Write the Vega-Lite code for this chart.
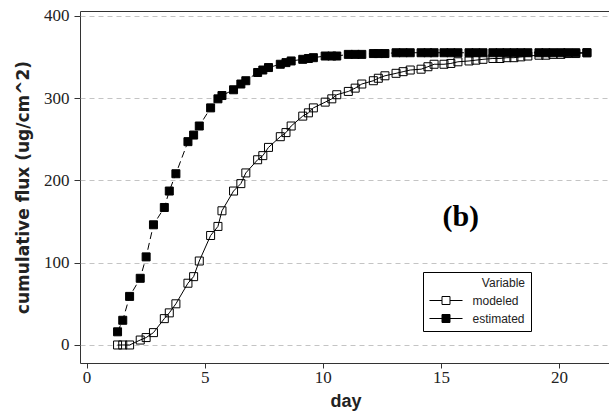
{
  "$schema": "https://vega.github.io/schema/vega-lite/v6.json",
  "width": 531,
  "height": 352,
  "autosize": {"type": "none"},
  "padding": {"left": 80, "top": 11, "right": 0, "bottom": 52},
  "background": "white",
  "config": {
    "view": {"stroke": "#333333", "strokeWidth": 1},
    "axis": {"domain": false, "labelColor": "#222222", "titleColor": "#222222", "tickColor": "#333333", "labelFlush": false}
  },
  "datasets": {
    "flux": [
      {"day": 1.31, "flux": 16, "series": "estimated"},
      {"day": 1.53, "flux": 30, "series": "estimated"},
      {"day": 1.82, "flux": 59, "series": "estimated"},
      {"day": 2.27, "flux": 81, "series": "estimated"},
      {"day": 2.52, "flux": 107, "series": "estimated"},
      {"day": 2.83, "flux": 146, "series": "estimated"},
      {"day": 3.29, "flux": 167, "series": "estimated"},
      {"day": 3.50, "flux": 187, "series": "estimated"},
      {"day": 3.78, "flux": 208, "series": "estimated"},
      {"day": 4.29, "flux": 247, "series": "estimated"},
      {"day": 4.53, "flux": 255, "series": "estimated"},
      {"day": 4.77, "flux": 266, "series": "estimated"},
      {"day": 5.25, "flux": 288, "series": "estimated"},
      {"day": 5.56, "flux": 299, "series": "estimated"},
      {"day": 5.73, "flux": 303, "series": "estimated"},
      {"day": 6.22, "flux": 310, "series": "estimated"},
      {"day": 6.53, "flux": 317, "series": "estimated"},
      {"day": 6.74, "flux": 321, "series": "estimated"},
      {"day": 7.24, "flux": 331, "series": "estimated"},
      {"day": 7.46, "flux": 334, "series": "estimated"},
      {"day": 7.70, "flux": 337, "series": "estimated"},
      {"day": 8.20, "flux": 341, "series": "estimated"},
      {"day": 8.44, "flux": 343, "series": "estimated"},
      {"day": 8.66, "flux": 345, "series": "estimated"},
      {"day": 9.15, "flux": 347, "series": "estimated"},
      {"day": 9.39, "flux": 348, "series": "estimated"},
      {"day": 9.60, "flux": 349, "series": "estimated"},
      {"day": 10.10, "flux": 351, "series": "estimated"},
      {"day": 10.38, "flux": 351, "series": "estimated"},
      {"day": 10.59, "flux": 351, "series": "estimated"},
      {"day": 11.08, "flux": 353, "series": "estimated"},
      {"day": 11.37, "flux": 353, "series": "estimated"},
      {"day": 11.65, "flux": 353, "series": "estimated"},
      {"day": 12.14, "flux": 354, "series": "estimated"},
      {"day": 12.35, "flux": 354, "series": "estimated"},
      {"day": 12.63, "flux": 354, "series": "estimated"},
      {"day": 13.10, "flux": 355, "series": "estimated"},
      {"day": 13.40, "flux": 355, "series": "estimated"},
      {"day": 13.70, "flux": 355, "series": "estimated"},
      {"day": 14.16, "flux": 355, "series": "estimated"},
      {"day": 14.45, "flux": 355, "series": "estimated"},
      {"day": 14.71, "flux": 355, "series": "estimated"},
      {"day": 15.13, "flux": 355, "series": "estimated"},
      {"day": 15.42, "flux": 355, "series": "estimated"},
      {"day": 15.72, "flux": 355, "series": "estimated"},
      {"day": 16.19, "flux": 355, "series": "estimated"},
      {"day": 16.48, "flux": 355, "series": "estimated"},
      {"day": 16.78, "flux": 355, "series": "estimated"},
      {"day": 17.20, "flux": 355, "series": "estimated"},
      {"day": 17.50, "flux": 355, "series": "estimated"},
      {"day": 17.79, "flux": 355, "series": "estimated"},
      {"day": 18.09, "flux": 355, "series": "estimated"},
      {"day": 18.38, "flux": 355, "series": "estimated"},
      {"day": 18.68, "flux": 355, "series": "estimated"},
      {"day": 19.15, "flux": 355, "series": "estimated"},
      {"day": 19.44, "flux": 355, "series": "estimated"},
      {"day": 19.74, "flux": 355, "series": "estimated"},
      {"day": 20.08, "flux": 355, "series": "estimated"},
      {"day": 20.37, "flux": 355, "series": "estimated"},
      {"day": 20.71, "flux": 355, "series": "estimated"},
      {"day": 21.18, "flux": 355, "series": "estimated"},
      {"day": 1.31, "flux": 0, "series": "modeled"},
      {"day": 1.53, "flux": 0, "series": "modeled"},
      {"day": 1.82, "flux": 0, "series": "modeled"},
      {"day": 2.27, "flux": 6, "series": "modeled"},
      {"day": 2.52, "flux": 9, "series": "modeled"},
      {"day": 2.83, "flux": 15, "series": "modeled"},
      {"day": 3.29, "flux": 32, "series": "modeled"},
      {"day": 3.50, "flux": 39, "series": "modeled"},
      {"day": 3.78, "flux": 50, "series": "modeled"},
      {"day": 4.29, "flux": 75, "series": "modeled"},
      {"day": 4.53, "flux": 83, "series": "modeled"},
      {"day": 4.77, "flux": 102, "series": "modeled"},
      {"day": 5.25, "flux": 133, "series": "modeled"},
      {"day": 5.56, "flux": 144, "series": "modeled"},
      {"day": 5.73, "flux": 163, "series": "modeled"},
      {"day": 6.22, "flux": 187, "series": "modeled"},
      {"day": 6.53, "flux": 196, "series": "modeled"},
      {"day": 6.74, "flux": 209, "series": "modeled"},
      {"day": 7.24, "flux": 225, "series": "modeled"},
      {"day": 7.46, "flux": 230, "series": "modeled"},
      {"day": 7.70, "flux": 240, "series": "modeled"},
      {"day": 8.20, "flux": 253, "series": "modeled"},
      {"day": 8.44, "flux": 258, "series": "modeled"},
      {"day": 8.66, "flux": 266, "series": "modeled"},
      {"day": 9.15, "flux": 278, "series": "modeled"},
      {"day": 9.39, "flux": 282, "series": "modeled"},
      {"day": 9.60, "flux": 288, "series": "modeled"},
      {"day": 10.10, "flux": 295, "series": "modeled"},
      {"day": 10.38, "flux": 299, "series": "modeled"},
      {"day": 10.59, "flux": 304, "series": "modeled"},
      {"day": 11.08, "flux": 308, "series": "modeled"},
      {"day": 11.37, "flux": 312, "series": "modeled"},
      {"day": 11.65, "flux": 317, "series": "modeled"},
      {"day": 12.14, "flux": 321, "series": "modeled"},
      {"day": 12.35, "flux": 324, "series": "modeled"},
      {"day": 12.63, "flux": 327, "series": "modeled"},
      {"day": 13.10, "flux": 330, "series": "modeled"},
      {"day": 13.40, "flux": 332, "series": "modeled"},
      {"day": 13.70, "flux": 334, "series": "modeled"},
      {"day": 14.16, "flux": 335, "series": "modeled"},
      {"day": 14.45, "flux": 338, "series": "modeled"},
      {"day": 14.71, "flux": 341, "series": "modeled"},
      {"day": 15.13, "flux": 341, "series": "modeled"},
      {"day": 15.42, "flux": 342, "series": "modeled"},
      {"day": 15.72, "flux": 344, "series": "modeled"},
      {"day": 16.19, "flux": 345, "series": "modeled"},
      {"day": 16.48, "flux": 346, "series": "modeled"},
      {"day": 16.78, "flux": 347, "series": "modeled"},
      {"day": 17.20, "flux": 348, "series": "modeled"},
      {"day": 17.50, "flux": 348, "series": "modeled"},
      {"day": 17.79, "flux": 349, "series": "modeled"},
      {"day": 18.09, "flux": 349, "series": "modeled"},
      {"day": 18.38, "flux": 350, "series": "modeled"},
      {"day": 18.68, "flux": 351, "series": "modeled"},
      {"day": 19.15, "flux": 352, "series": "modeled"},
      {"day": 19.44, "flux": 352, "series": "modeled"},
      {"day": 19.74, "flux": 353, "series": "modeled"},
      {"day": 20.08, "flux": 353, "series": "modeled"},
      {"day": 20.37, "flux": 354, "series": "modeled"},
      {"day": 20.71, "flux": 354, "series": "modeled"},
      {"day": 21.18, "flux": 355, "series": "modeled"}
    ],
    "panel": [
      {"day": 15.84, "flux": 155.5, "label": "(b)"}
    ]
  },
  "encoding": {
    "x": {
      "field": "day",
      "type": "quantitative",
      "scale": {"domain": [-0.28, 22.2], "nice": false, "zero": false},
      "axis": {
        "values": [0, 5, 10, 15, 20],
        "grid": false,
        "tickSize": 5,
        "labelFont": "Liberation Sans Narrow",
        "labelFontSize": 17,
        "labelPadding": 1,
        "title": "day",
        "titleFont": "Liberation Sans",
        "titleFontWeight": "bold",
        "titleFontSize": 18,
        "titlePadding": 7
      }
    },
    "y": {
      "field": "flux",
      "type": "quantitative",
      "scale": {"domain": [-21.9, 405.7], "nice": false, "zero": false},
      "axis": {
        "values": [0, 100, 200, 300, 400],
        "grid": true,
        "gridDash": [5, 4],
        "gridColor": "#c4c4c4",
        "tickSize": 6,
        "labelPadding": 5,
        "labelFont": "Liberation Sans Narrow",
        "labelFontSize": 17,
        "title": "cumulative flux (ug/cm^2)",
        "titleFont": "DejaVu Sans",
        "titleFontWeight": "bold",
        "titleFontSize": 17,
        "titlePadding": 11
      }
    }
  },
  "layer": [
    {
      "data": {"name": "flux"},
      "transform": [{"filter": "datum.series === 'modeled'"}],
      "mark": {"type": "line", "color": "black", "strokeWidth": 1}
    },
    {
      "data": {"name": "flux"},
      "transform": [{"filter": "datum.series === 'estimated'"}],
      "mark": {"type": "line", "color": "black", "strokeWidth": 1, "strokeDash": [7, 4]}
    },
    {
      "data": {"name": "flux"},
      "mark": {"type": "point", "shape": "square", "size": 64, "filled": true, "stroke": "black", "strokeWidth": 1, "opacity": 1},
      "encoding": {
        "fill": {
          "field": "series",
          "type": "nominal",
          "scale": {"domain": ["modeled", "estimated"], "range": ["transparent", "black"]},
          "legend": {
            "title": "Variable\u00a0\u00a0\u00a0",
            "orient": "none",
            "legendX": 343,
            "legendY": 261,
            "direction": "vertical",
            "fillColor": "white",
            "strokeColor": "black",
            "cornerRadius": 0,
            "padding": 6,
            "titleFont": "Liberation Sans",
            "titleFontSize": 12,
            "titleFontWeight": "normal",
            "titleColor": "#222222",
            "titleAnchor": "end",
            "titlePadding": 3,
            "labelFont": "Liberation Sans",
            "labelFontSize": 12,
            "labelColor": "#222222",
            "labelOffset": 19,
            "rowPadding": 4,
            "symbolType": "M-2.36,0H-0.57M0.57,0H2.36M-0.57,-0.57H0.57V0.57H-0.57Z",
            "symbolSize": 196,
            "symbolOffset": 9.5,
            "symbolStrokeColor": "black",
            "symbolStrokeWidth": 1,
            "symbolOpacity": 1
          }
        }
      }
    },
    {
      "data": {"name": "panel"},
      "mark": {"type": "text", "font": "Liberation Serif", "fontWeight": "bold", "fontSize": 30, "align": "center", "baseline": "middle", "color": "black"},
      "encoding": {
        "text": {"field": "label", "type": "nominal"}
      }
    }
  ]
}
